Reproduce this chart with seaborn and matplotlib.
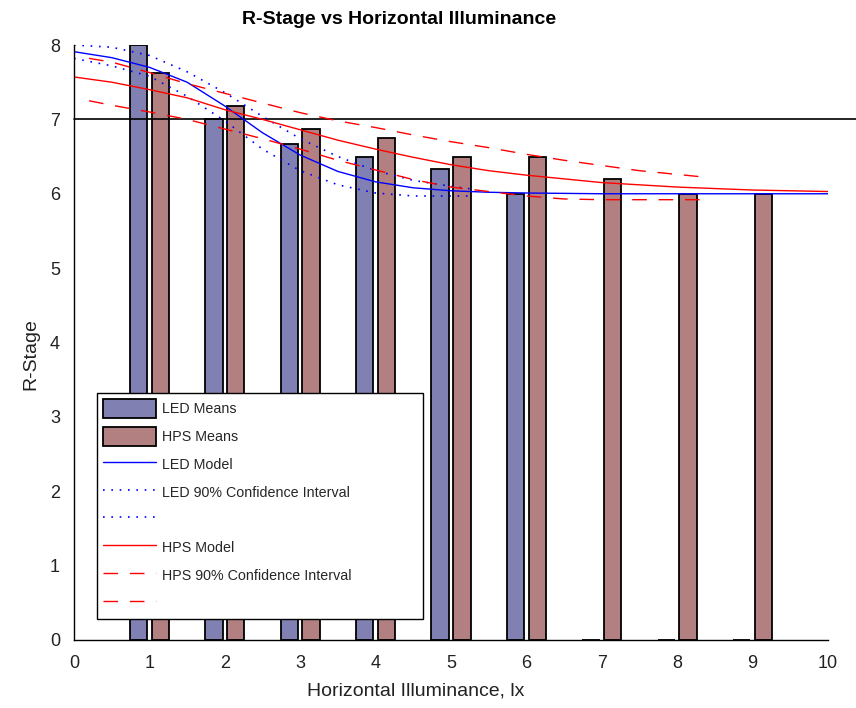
import matplotlib
matplotlib.use("Agg")
import matplotlib.pyplot as plt
from matplotlib.patches import Patch
from matplotlib.lines import Line2D
import numpy as np
import pandas as pd
import seaborn as sns

# Mean R-Stage per illuminance level
lux_levels = [1, 2, 3, 4, 5, 6, 7, 8, 9]
led_means = [8.0, 7.0, 6.67, 6.5, 6.33, 6.0, 0.0, 0.0, 0.0]
hps_means = [7.625, 7.18, 6.875, 6.75, 6.5, 6.5, 6.2, 6.0, 6.0]

# Fitted model curves
led_model_x = [0, 0.5, 1.0, 1.5, 2.0, 2.5, 3.0, 3.5, 4.0, 4.5, 5.0, 5.5, 6.0, 7.0, 8.0, 9.0, 10.0]
led_model_y = [7.91, 7.83, 7.70, 7.50, 7.18, 6.82, 6.52, 6.30, 6.16, 6.08, 6.04, 6.02, 6.01, 6.0, 6.0, 6.0, 6.0]

led_ci_x = [0, 0.5, 1.0, 1.5, 2.0, 2.5, 3.0, 3.5, 4.0, 4.5, 5.0, 5.3]
led_ci_upper = [8.0, 7.97, 7.86, 7.64, 7.36, 7.04, 6.74, 6.50, 6.31, 6.18, 6.10, 6.06]
led_ci_lower = [7.82, 7.72, 7.58, 7.31, 6.98, 6.60, 6.31, 6.12, 6.01, 5.97, 5.97, 5.97]

hps_model_x = [0, 0.5, 1.0, 1.5, 2.0, 2.5, 3.0, 3.5, 4.0, 4.5, 5.0, 5.5, 6.0, 6.5, 7.0,
               7.5, 8.0, 8.5, 9.0, 9.5, 10.0]
hps_model_y = [7.57, 7.50, 7.40, 7.29, 7.13, 7.00, 6.86, 6.72, 6.60, 6.49, 6.39, 6.31, 6.25,
               6.20, 6.15, 6.12, 6.09, 6.07, 6.05, 6.04, 6.03]

hps_ci_x = [0.2, 0.5, 1.0, 1.5, 2.0, 2.5, 3.0, 3.5, 4.0, 4.5, 5.0, 5.5, 6.0, 6.5, 7.0, 7.5, 8.0, 8.4]
hps_ci_upper = [7.82, 7.77, 7.63, 7.48, 7.35, 7.22, 7.09, 6.98, 6.89, 6.79, 6.70, 6.62, 6.53,
                6.45, 6.38, 6.31, 6.26, 6.22]
hps_ci_lower = [7.25, 7.19, 7.10, 7.00, 6.87, 6.74, 6.60, 6.45, 6.32, 6.19, 6.09, 6.03, 5.97,
                5.93, 5.92, 5.92, 5.92, 5.92]

threshold = 7

led_color = "#8080b2"
hps_color = "#b28080"

sns.set_theme(style="white")
plt.rcParams["font.family"] = ["Liberation Sans", "DejaVu Sans"]

fig = plt.figure(figsize=(8.56, 7.08), dpi=100)
ax = fig.add_axes([74 / 856, 68 / 708, 754 / 856, 595 / 708])

bars = pd.DataFrame({
    "lux": lux_levels * 2,
    "stage": led_means + hps_means,
    "source": ["LED"] * len(lux_levels) + ["HPS"] * len(lux_levels),
})
sns.barplot(data=bars, x="lux", y="stage", hue="source", native_scale=True,
            palette={"LED": led_color, "HPS": hps_color}, width=0.58, gap=0.2,
            edgecolor="black", linewidth=1.3, saturation=1, errorbar=None,
            legend=False, ax=ax)

ax.axhline(threshold, xmin=0, xmax=(856 - 74) / 754, color="black", lw=1.2, clip_on=False)

dot = (0, (1, 4))
dash = (0, (10.5, 8.5))
sns.lineplot(x=led_model_x, y=led_model_y, color="blue", lw=1.0, ax=ax)
sns.lineplot(x=led_ci_x, y=led_ci_upper, color="blue", lw=1.2, linestyle=dot, ax=ax)
sns.lineplot(x=led_ci_x, y=led_ci_lower, color="blue", lw=1.2, linestyle=dot, ax=ax)
sns.lineplot(x=hps_model_x, y=hps_model_y, color="red", lw=1.0, ax=ax)
sns.lineplot(x=hps_ci_x, y=hps_ci_upper, color="red", lw=1.0, linestyle=dash, ax=ax)
sns.lineplot(x=hps_ci_x, y=hps_ci_lower, color="red", lw=1.0, linestyle=dash, ax=ax)

ax.set_xlim(0, 10)
ax.set_ylim(0, 8)
ax.set_xticks(range(0, 11))
ax.set_yticks(range(0, 9))
ax.tick_params(direction="in", length=6, width=1, colors="black", labelsize=13,
               labelcolor="#222222")
ax.tick_params(axis="x", pad=11)
ax.tick_params(axis="y", pad=10)
for side in ("top", "right"):
    ax.spines[side].set_visible(False)
for side in ("left", "bottom"):
    ax.spines[side].set_color("black")
    ax.spines[side].set_linewidth(1.0)

ax.set_xlabel("Horizontal Illuminance, lx", fontsize=14, color="#222222")
ax.set_ylabel("R-Stage", fontsize=14, color="#222222")
ax.xaxis.set_label_coords((416 - 74) / 754, (640 - 691) / 595)
ax.yaxis.set_label_coords((31 - 74) / 754, (640 - 354) / 595)
ax.xaxis.label.set_va("center")
ax.yaxis.label.set_va("center")
fig.text(399 / 856, 1 - 19 / 708, "R-Stage vs Horizontal Illuminance", ha="center",
         va="center", fontsize=14, fontweight="bold", color="black")

handles = [
    Patch(facecolor=led_color, edgecolor="black", lw=1.3),
    Patch(facecolor=hps_color, edgecolor="black", lw=1.3),
    Line2D([], [], color="blue", lw=1.0),
    Line2D([], [], color="blue", lw=1.2, linestyle=dot),
    Line2D([], [], color="blue", lw=1.2, linestyle=dot),
    Line2D([], [], color="red", lw=1.0),
    Line2D([], [], color="red", lw=1.0, linestyle=dash),
    Line2D([], [], color="red", lw=1.0, linestyle=dash),
]
labels = ["LED Means", "HPS Means", "LED Model", "LED 90% Confidence Interval", "",
          "HPS Model", "HPS 90% Confidence Interval", ""]
leg = ax.legend(handles, labels, loc="lower left",
                bbox_to_anchor=(23 / 754, 21 / 595, 326 / 754, 223 / 595), mode="expand",
                fontsize=10.3, frameon=True, fancybox=False, edgecolor="black",
                framealpha=1, handlelength=3.75, handleheight=1.7, handletextpad=0.4,
                labelspacing=0.6, borderpad=0.4, borderaxespad=0)
leg.get_frame().set_linewidth(1.0)

fig.savefig("out.png", dpi=100, facecolor="white")
